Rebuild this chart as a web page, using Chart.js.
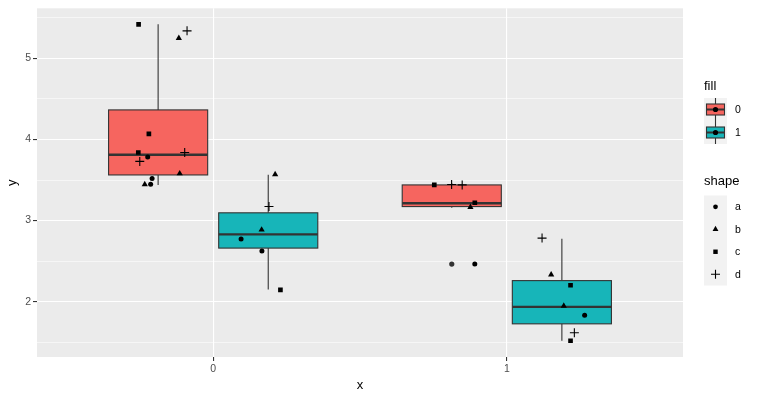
<!DOCTYPE html>
<html><head><meta charset="utf-8">
<script src="https://cdn.jsdelivr.net/npm/chart.js@4/dist/chart.umd.min.js"></script>
<style>html,body{margin:0;padding:0;background:#fff}canvas{display:block}</style>
</head><body>
<canvas id="c" width="759" height="399"></canvas>
<script>
// ---- data ----
const xCategories = ['0', '1'];
const fillLevels = ['0', '1'];
const fillColors = ['#F6655F', '#17B5B9'];
const shapeLevels = ['a', 'b', 'c', 'd'];
const shapeStyles = ['circle', 'triangle', 'rect', 'cross'];

// boxplot summaries (x position on the discrete axis, dodged)
const boxX      = [0.8125, 1.1875, 1.8125, 2.1875];
const boxFill   = [0, 1, 0, 1];
const boxLow    = [3.44, 2.15, 3.157, 1.518];
const boxQ1     = [3.563, 2.661, 3.173, 1.727];
const boxMedian = [3.812, 2.829, 3.214, 1.936];
const boxQ3     = [4.365, 3.096, 3.44, 2.26];
const boxHigh   = [5.42, 3.566, 3.46, 2.776];
const boxWidth  = 0.3375;
const outlierX  = [1.8125];
const outlierY  = [2.464];

// jittered points by shape
const aX = [0.777, 0.792, 0.787, 1.095, 1.166, 1.891, 2.265];
const aY = [3.784, 3.52, 3.447, 2.772, 2.624, 2.464, 1.834];
const bX = [0.883, 0.886, 0.767, 1.211, 1.165, 1.876, 2.151, 2.194];
const bY = [5.25, 3.58, 3.447, 3.57, 2.887, 3.165, 2.334, 1.948];
const cX = [0.746, 0.781, 0.745, 1.229, 1.753, 1.891, 2.217, 2.217];
const cY = [5.42, 4.07, 3.84, 2.145, 3.44, 3.22, 2.203, 1.518];
const dX = [0.911, 0.75, 0.903, 1.19, 1.812, 1.848, 2.12, 2.23];
const dY = [5.34, 3.73, 3.84, 3.173, 3.445, 3.44, 2.784, 1.617];

const yMajor = [2, 3, 4, 5];
const yMinor = [1.5, 2.5, 3.5, 4.5, 5.5];
const yTickLabels = ['2', '3', '4', '5'];
const xTickValues = [1, 2];

const FONT = "'Liberation Sans', Arial, Helvetica, sans-serif";

function pts(xs, ys) { return xs.map((x, i) => ({x: x, y: ys[i]})); }

const shapeData = [[aX, aY], [bX, bY], [cX, cY], [dX, dY]];
const shapeRadius = [2.5, 3.6, 3.3, 4.5];
const shapeBorder = [0, 0, 0, 1.1];

const datasets = [{
  label: 'outlier',
  data: pts(outlierX, outlierY),
  pointStyle: 'circle',
  pointRadius: 2.6,
  pointBackgroundColor: '#333333',
  pointBorderColor: '#333333',
  pointBorderWidth: 0
}];
shapeLevels.forEach((s, i) => {
  datasets.push({
    label: s,
    data: pts(shapeData[i][0], shapeData[i][1]),
    pointStyle: shapeStyles[i],
    pointRadius: shapeRadius[i],
    pointBackgroundColor: '#000',
    pointBorderColor: '#000',
    pointBorderWidth: shapeBorder[i]
  });
});

const panelBg = {
  id: 'panelBg',
  beforeDraw(chart) {
    const {ctx, chartArea: a} = chart;
    ctx.save();
    ctx.fillStyle = '#EBEBEB';
    ctx.fillRect(a.left, a.top, a.right - a.left, a.bottom - a.top);
    ctx.restore();
  }
};

const boxes = {
  id: 'boxes',
  beforeDatasetsDraw(chart) {
    const {ctx, chartArea: a, scales: {x, y}} = chart;
    ctx.save();
    ctx.beginPath();
    ctx.rect(a.left, a.top, a.right - a.left, a.bottom - a.top);
    ctx.clip();
    boxX.forEach((cx, i) => {
      const xc = x.getPixelForValue(cx);
      const xl = x.getPixelForValue(cx - boxWidth / 2);
      const xr = x.getPixelForValue(cx + boxWidth / 2);
      const yLo = y.getPixelForValue(boxLow[i]);
      const yQ1 = y.getPixelForValue(boxQ1[i]);
      const yMed = y.getPixelForValue(boxMedian[i]);
      const yQ3 = y.getPixelForValue(boxQ3[i]);
      const yHi = y.getPixelForValue(boxHigh[i]);
      ctx.strokeStyle = '#333333';
      ctx.lineWidth = 1.1;
      ctx.beginPath();
      ctx.moveTo(xc, yHi); ctx.lineTo(xc, yQ3);
      ctx.moveTo(xc, yQ1); ctx.lineTo(xc, yLo);
      ctx.stroke();
      ctx.fillStyle = fillColors[boxFill[i]];
      ctx.fillRect(xl, yQ3, xr - xl, yQ1 - yQ3);
      ctx.strokeRect(xl, yQ3, xr - xl, yQ1 - yQ3);
      ctx.lineWidth = 2.3;
      ctx.beginPath();
      ctx.moveTo(xl, yMed); ctx.lineTo(xr, yMed);
      ctx.stroke();
    });
    ctx.restore();
  }
};

const legend = {
  id: 'ggLegend',
  afterDraw(chart) {
    const ctx = chart.ctx;
    const dp = Chart.helpers.drawPoint;
    ctx.save();
    const lx = 704, kw = 23;
    // fill legend
    ctx.fillStyle = '#000';
    ctx.font = '13px ' + FONT;
    ctx.textBaseline = 'alphabetic';
    ctx.textAlign = 'left';
    ctx.fillText('fill', lx, 90);
    const fTop = 98, kh = 23;
    ctx.fillStyle = '#F2F2F2';
    ctx.fillRect(lx, fTop, kw, kh * fillLevels.length);
    fillLevels.forEach((lv, i) => {
      const t = fTop + i * kh, cx = lx + kw / 2, cy = t + kh / 2;
      ctx.strokeStyle = '#333333';
      ctx.lineWidth = 1.1;
      ctx.beginPath(); ctx.moveTo(cx, t); ctx.lineTo(cx, t + kh); ctx.stroke();
      ctx.fillStyle = fillColors[i];
      ctx.fillRect(lx + 2.5, t + 6, kw - 5, kh - 12);
      ctx.strokeRect(lx + 2.5, t + 6, kw - 5, kh - 12);
      ctx.lineWidth = 2;
      ctx.beginPath(); ctx.moveTo(lx + 2.5, cy); ctx.lineTo(lx + kw - 2.5, cy); ctx.stroke();
      ctx.fillStyle = '#000'; ctx.strokeStyle = '#000';
      dp(ctx, {pointStyle: 'circle', radius: 2.6, borderWidth: 0, rotation: 0}, cx, cy);
      ctx.fillStyle = '#000';
      ctx.font = '10.5px ' + FONT;
      ctx.textBaseline = 'middle';
      ctx.fillText(lv, 735, cy + 0.5);
    });
    // shape legend
    ctx.textBaseline = 'alphabetic';
    ctx.font = '13px ' + FONT;
    ctx.fillStyle = '#000';
    ctx.fillText('shape', lx, 185);
    const sTop = 195.5, sh = 22.5;
    ctx.fillStyle = '#F2F2F2';
    ctx.fillRect(lx, sTop, kw, sh * shapeLevels.length);
    shapeLevels.forEach((lv, i) => {
      const cx = lx + kw / 2, cy = sTop + sh * i + sh / 2;
      ctx.fillStyle = '#000'; ctx.strokeStyle = '#000';
      ctx.lineWidth = shapeBorder[i];
      dp(ctx, {pointStyle: shapeStyles[i], radius: shapeRadius[i] * (i === 3 ? 1 : 0.95), borderWidth: shapeBorder[i], rotation: 0}, cx, cy);
      ctx.fillStyle = '#000';
      ctx.font = '10.5px ' + FONT;
      ctx.textBaseline = 'middle';
      ctx.fillText(lv, 735, cy + 0.5);
    });
    ctx.restore();
  }
};

new Chart(document.getElementById('c'), {
  type: 'scatter',
  data: {datasets},
  plugins: [panelBg, boxes, legend],
  options: {
    responsive: false,
    animation: false,
    events: [],
    layout: {padding: {top: 7, right: 76, left: 0, bottom: 0}},
    plugins: {legend: {display: false}, tooltip: {enabled: false}},
    scales: {
      x: {
        type: 'linear',
        min: 0.4, max: 2.6,
        afterBuildTicks(s) { s.ticks = xTickValues.map(v => ({value: v})); },
        afterFit(s) { s.height = 42; },
        ticks: {
          autoSkip: false, maxRotation: 0, padding: 2,
          color: '#4D4D4D', font: {family: FONT, size: 10.5},
          callback: (v, i) => xCategories[i]
        },
        grid: {
          color: '#FFFFFF', lineWidth: 1.1,
          tickLength: 4, tickColor: '#333333', tickWidth: 1.1
        },
        border: {display: false},
        title: {display: true, text: 'x', color: '#000', font: {family: FONT, size: 13}, padding: {top: 0, bottom: 6}}
      },
      y: {
        type: 'linear',
        min: 1.318, max: 5.618,
        afterBuildTicks(s) {
          s.ticks = yMinor.concat(yMajor).sort((p, q) => p - q).map(v => ({value: v}));
        },
        afterFit(s) { s.width = 37; },
        ticks: {
          autoSkip: false, padding: 2,
          color: '#4D4D4D', font: {family: FONT, size: 10.5},
          callback: (v) => { const k = yMajor.indexOf(v); return k >= 0 ? yTickLabels[k] : ''; }
        },
        grid: {
          color: '#FFFFFF',
          lineWidth: (c) => yMajor.includes(c.tick && c.tick.value) ? 1.1 : 0.55,
          tickLength: 4,
          tickColor: (c) => yMajor.includes(c.tick && c.tick.value) ? '#333333' : 'rgba(0,0,0,0)',
          tickWidth: 1.1
        },
        border: {display: false},
        title: {display: true, text: 'y', color: '#000', font: {family: FONT, size: 13}, padding: {top: 5, bottom: 0}}
      }
    }
  }
});
</script>
</body></html>
